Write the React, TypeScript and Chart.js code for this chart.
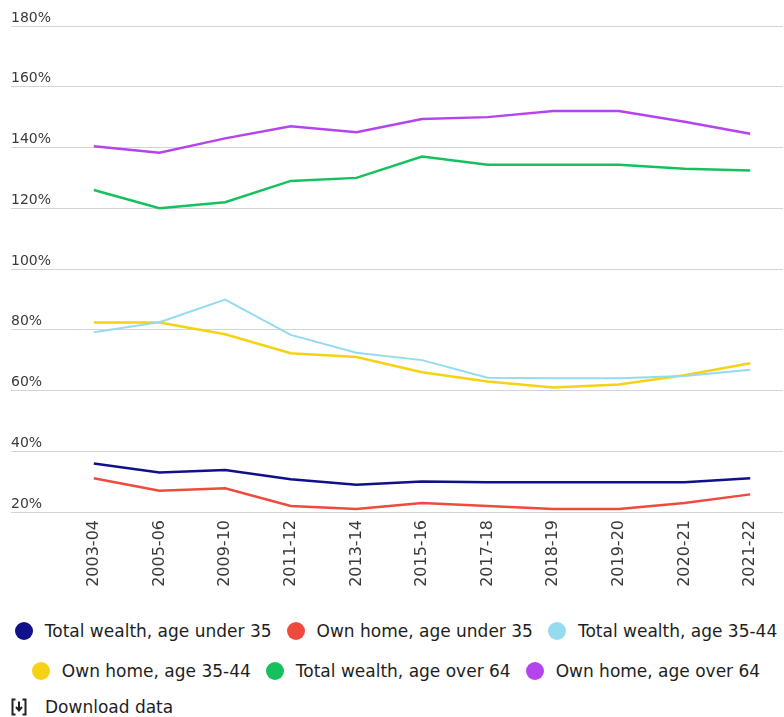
import React, { useEffect, useRef } from "react";
import { Chart, registerables } from "chart.js";

Chart.register(...registerables);

const categories = ["2003-04", "2005-06", "2009-10", "2011-12", "2013-14", "2015-16", "2017-18", "2018-19", "2019-20", "2020-21", "2021-22"];

const totalWealthUnder35 = [36, 33, 33.8, 30.8, 29, 30, 29.8, 29.8, 29.8, 29.8, 31.1];
const ownHomeUnder35 = [31.1, 27, 27.8, 22, 21, 23, 22, 21, 21, 23, 25.8];
const totalWealth35to44 = [79.2, 82.5, 89.9, 78.3, 72.4, 70, 64.2, 64, 64, 64.8, 66.8];
const ownHome35to44 = [82.4, 82.4, 78.5, 72.3, 71, 66, 63, 61, 62, 65, 69];
const totalWealthOver64 = [126, 120, 122, 129, 130, 137, 134.3, 134.3, 134.3, 133, 132.4];
const ownHomeOver64 = [140.4, 138.3, 143, 147, 145, 149.4, 150, 152, 152, 148.5, 144.5];

const seriesLabels = [
  "Total wealth, age under 35",
  "Own home, age under 35",
  "Total wealth, age 35-44",
  "Own home, age 35-44",
  "Total wealth, age over 64",
  "Own home, age over 64",
];
const seriesColors = ["#10108a", "#f04a3e", "#94dbf0", "#f6d215", "#14c15e", "#b445ee"];
const seriesWidths = [2.5, 2.5, 2, 2.5, 2.5, 2.5];
const seriesData = [totalWealthUnder35, ownHomeUnder35, totalWealth35to44, ownHome35to44, totalWealthOver64, ownHomeOver64];

const yMin = 20;
const yMax = 180;
const yStep = 20;

const legendRows = [[0, 1, 2], [3, 4, 5]];

const FONT = "'DejaVu Sans', sans-serif";

function DownloadIcon() {
  return (
    <svg width="16" height="18" viewBox="0 0 16 18" style={{ display: "block" }}>
      <path d="M4.5 1.5 H1.5 V16.5 H4.5" fill="none" stroke="#222" strokeWidth="2" />
      <path d="M11.5 1.5 H14.5 V16.5 H11.5" fill="none" stroke="#222" strokeWidth="2" />
      <path d="M8 3.5 V12" fill="none" stroke="#222" strokeWidth="2" />
      <path d="M5 9 L8 12.5 L11 9" fill="none" stroke="#222" strokeWidth="2" />
    </svg>
  );
}

export default function App() {
  const canvasRef = useRef<HTMLCanvasElement | null>(null);

  useEffect(() => {
    if (!canvasRef.current) return;
    const chart = new Chart(canvasRef.current, {
      type: "line",
      data: {
        labels: categories,
        datasets: seriesData.map((d, i) => ({
          label: seriesLabels[i],
          data: d,
          borderColor: seriesColors[i],
          backgroundColor: seriesColors[i],
          borderWidth: seriesWidths[i],
          pointRadius: 0,
          pointHoverRadius: 0,
          tension: 0,
          fill: false,
        })),
      },
      options: {
        animation: false,
        responsive: false,
        devicePixelRatio: 1,
        layout: { padding: { left: 3, right: 1, top: 18, bottom: 0 } },
        plugins: {
          legend: { display: false },
          tooltip: { enabled: false },
        },
        scales: {
          x: {
            type: "category",
            offset: true,
            grid: { display: false, drawTicks: false },
            border: { display: false },
            ticks: {
              autoSkip: false,
              minRotation: 90,
              maxRotation: 90,
              padding: 8,
              color: "#3a3a3a",
              font: { family: FONT, size: 16 },
            },
            afterFit: (s: any) => {
              s.height = 92;
            },
          },
          y: {
            min: yMin,
            max: yMax,
            grid: { color: "#d4d4d4", lineWidth: 1, drawTicks: true, tickLength: 50, tickColor: "#d4d4d4" },
            border: { display: false },
            ticks: {
              stepSize: yStep,
              crossAlign: "far",
              labelOffset: -8,
              padding: 0,
              color: "#3a3a3a",
              font: { family: FONT, size: 14 },
              callback: (v: any) => v + "%",
            },
            afterFit: (s: any) => {
              s.width = 50;
            },
          },
        },
      },
    } as any);
    return () => chart.destroy();
  }, []);

  return (
    <div style={{ position: "fixed", left: 0, top: 0, width: 784, height: 717, overflow: "hidden", background: "#fff" }}>
      <div style={{ position: "absolute", left: 8, top: 8, width: 776, height: 596 }}>
        <canvas ref={canvasRef} width={776} height={596} style={{ display: "block", width: 776, height: 596 }} />
      </div>
      {legendRows.map((row, ri) => (
        <div
          key={ri}
          style={{
            position: "absolute",
            left: 8,
            width: 776,
            top: ri === 0 ? 619 : 659,
            height: 24,
            display: "flex",
            justifyContent: "center",
            alignItems: "center",
            gap: 15,
            whiteSpace: "nowrap",
          }}
        >
          {row.map((i) => (
            <div key={i} style={{ display: "flex", alignItems: "center" }}>
              <span
                style={{
                  display: "inline-block",
                  width: 18,
                  height: 18,
                  borderRadius: "50%",
                  background: seriesColors[i],
                  marginRight: 12,
                }}
              />
              <span style={{ fontFamily: FONT, fontSize: 17, color: "#1e1e1e", lineHeight: "24px" }}>{seriesLabels[i]}</span>
            </div>
          ))}
        </div>
      ))}
      <div style={{ position: "absolute", left: 11, top: 695, height: 24, display: "flex", alignItems: "center" }}>
        <DownloadIcon />
        <span style={{ fontFamily: FONT, fontSize: 17, color: "#1e1e1e", marginLeft: 18, lineHeight: "24px" }}>Download data</span>
      </div>
    </div>
  );
}
